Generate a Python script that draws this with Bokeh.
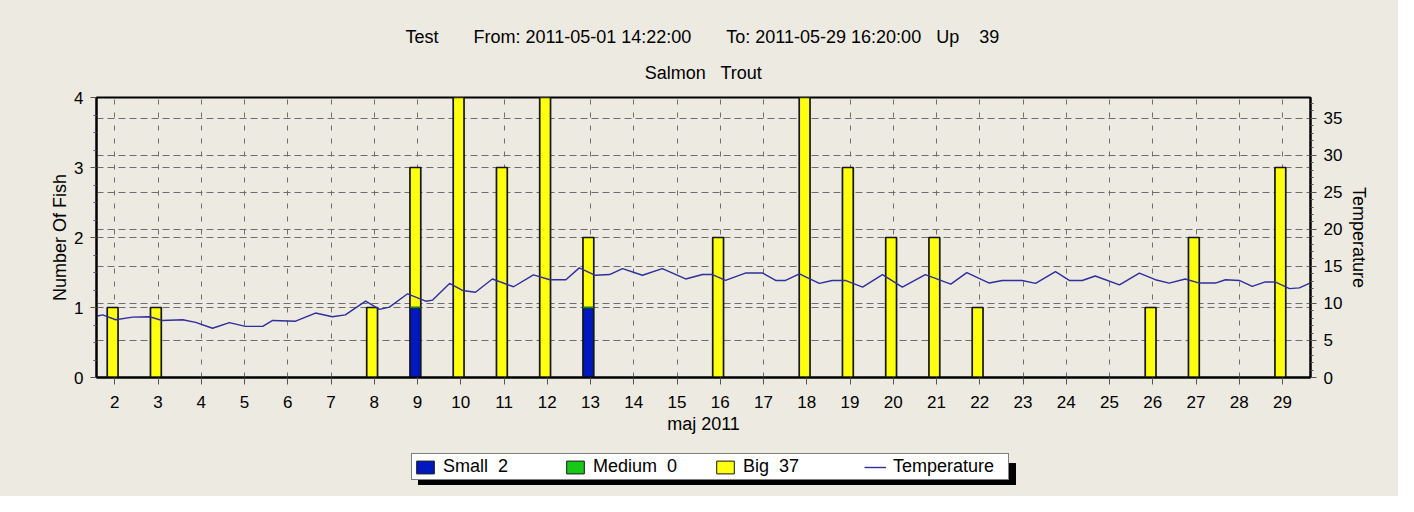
from bokeh.plotting import figure
from bokeh.layouts import column
from bokeh.models import (LinearAxis, Range1d, FixedTicker, Grid, Title, Legend,
                          LegendItem, ColumnDataSource)
from bokeh.transform import dodge
from bokeh.embed import file_html
from bokeh.resources import INLINE

# ---------------- data ----------------
days = [2, 3, 8, 9, 10, 11, 12, 13, 16, 18, 19, 20, 21, 22, 26, 27, 29]
small = [0, 0, 0, 1, 0, 0, 0, 1, 0, 0, 0, 0, 0, 0, 0, 0, 0]
medium = [0, 0, 0, 0, 0, 0, 0, 0, 0, 0, 0, 0, 0, 0, 0, 0, 0]
big = [1, 1, 1, 2, 4, 3, 4, 1, 2, 4, 3, 2, 2, 1, 1, 2, 3]

temp_day = [1.60, 1.72, 2.02, 2.41, 2.80, 3.10, 3.57, 3.87, 4.26, 4.65, 5.02, 5.42,
            5.65, 6.18, 6.64, 7.03, 7.33, 7.80, 8.12, 8.35, 8.77, 9.19, 9.35, 9.74,
            10.04, 10.34, 10.73, 11.22, 11.68, 12.06, 12.43, 12.74, 13.11, 13.44,
            13.74, 14.20, 14.66, 15.20, 15.59, 15.82, 16.12, 16.58, 16.98, 17.28,
            17.51, 17.83, 18.29, 18.59, 18.89, 19.29, 19.75, 20.21, 20.74, 21.33,
            21.70, 22.22, 22.52, 22.98, 23.29, 23.75, 24.07, 24.37, 24.67, 25.23,
            25.69, 26.06, 26.38, 26.75, 27.08, 27.45, 27.68, 28.00, 28.30, 28.60,
            28.83, 29.16, 29.39, 29.62]
temp_val = [8.3, 8.45, 7.8, 8.15, 8.2, 7.7, 7.8, 7.45, 6.65, 7.4, 6.9, 6.9,
            7.7, 7.6, 8.7, 8.2, 8.45, 10.3, 9.2, 9.5, 11.3, 10.3, 10.45, 12.7,
            11.75, 11.5, 13.3, 12.25, 13.85, 13.2, 13.2, 14.8, 13.8, 13.9,
            14.7, 13.8, 14.7, 13.3, 13.9, 13.9, 13.1, 14.1, 14.1, 13.1,
            13.1, 14.0, 12.7, 13.1, 13.1, 12.2, 13.9, 12.2, 13.9, 12.6,
            14.15, 12.75, 13.1, 13.1, 12.7, 14.3, 13.1, 13.1, 13.7, 12.5,
            14.1, 13.2, 12.75, 13.3, 12.75, 12.75, 13.2, 13.1, 12.3, 12.9,
            12.9, 12.0, 12.1, 12.7]

x_ticks = [2, 3, 4, 5, 6, 7, 8, 9, 10, 11, 12, 13, 14, 15, 16, 17, 18, 19, 20,
           21, 22, 23, 24, 25, 26, 27, 28, 29]
fish_ticks = [0, 1, 2, 3, 4]
fish_minor = [0.25, 0.5, 0.75, 1.25, 1.5, 1.75, 2.25, 2.5, 2.75, 3.25, 3.5, 3.75]
temp_ticks = [0, 5, 10, 15, 20, 25, 30, 35]
temp_minor = [t for t in range(0, 38) if t % 5 != 0]
temp_grid = [5, 10, 15, 20, 25, 30, 35]

title_text = ("Test" + "\u00a0" * 7 + "From: 2011-05-01 14:22:00" + "\u00a0" * 7 +
              "To: 2011-05-29 16:20:00" + "\u00a0" * 3 + "Up" + "\u00a0" * 4 + "39")
subtitle_text = "Salmon\u00a0\u00a0 Trout"
labels = ["Small  2", "Medium  0", "Big  37", "Temperature"]

# ---------------- style ----------------
BG = "#EDEAE1"
FONT = "Liberation Sans"
GRID = "#6e6e6e"
TICK = "#555555"
C_SMALL, C_MED, C_BIG, C_TEMP = "#0018C0", "#18C818", "#FFFF10", "#2E2E9E"
EDGE = "#151515"

med_bottom = [s for s in small]
med_top = [s + m for s, m in zip(small, medium)]
big_top = [s + m + b for s, m, b in zip(small, medium, big)]
src = ColumnDataSource(dict(day=days, small=small, med_bottom=med_bottom,
                            med_top=med_top, big_top=big_top))

p = figure(width=1398, height=447, x_range=Range1d(1.577, 29.647), y_range=Range1d(0, 4),
           output_backend="svg", toolbar_location=None, tools="",
           x_axis_type=None, y_axis_type=None,
           min_border_left=96, min_border_right=88, min_border_top=97, min_border_bottom=70)
p.extra_y_ranges = {"temp": Range1d(0, 37.8)}
p.background_fill_color = BG
p.border_fill_color = BG
p.outline_line_color = "black"
p.outline_line_width = 2

# titles (first added = closest to the frame)
p.add_layout(Title(text=subtitle_text, align="center", vertical_align="middle",
                   text_font=FONT, text_font_size="18px", text_font_style="normal",
                   text_color="black", standoff=27), "above")
p.add_layout(Title(text=title_text, align="left", offset=309, vertical_align="middle",
                   text_font=FONT, text_font_size="18px", text_font_style="normal",
                   text_color="black", standoff=1), "above")


def style_axis(ax, tick_out, minor_out, standoff, label_standoff, tick_size="17px"):
    ax.axis_line_color = "black"
    ax.axis_line_width = 2
    ax.major_tick_line_color = TICK
    ax.minor_tick_line_color = TICK
    ax.major_tick_out = tick_out
    ax.major_tick_in = 0
    ax.minor_tick_out = minor_out
    ax.minor_tick_in = 0
    ax.major_label_standoff = standoff
    ax.major_label_text_font = FONT
    ax.major_label_text_font_size = tick_size
    ax.major_label_text_color = "black"
    ax.axis_label_text_font = FONT
    ax.axis_label_text_font_size = "18px"
    ax.axis_label_text_font_style = "normal"
    ax.axis_label_text_color = "black"
    ax.axis_label_standoff = label_standoff


xaxis = LinearAxis(ticker=FixedTicker(ticks=x_ticks, minor_ticks=[]), axis_label="maj 2011")
style_axis(xaxis, 7, 0, 11, 3)
p.add_layout(xaxis, "below")

yaxis = LinearAxis(ticker=FixedTicker(ticks=fish_ticks, minor_ticks=fish_minor),
                   axis_label="Number Of Fish")
style_axis(yaxis, 6, 3, 7, 1)
p.add_layout(yaxis, "left")

taxis = LinearAxis(y_range_name="temp", ticker=FixedTicker(ticks=temp_ticks, minor_ticks=temp_minor),
                   axis_label="Temperature")
style_axis(taxis, 6, 3, 7, 4)
p.add_layout(taxis, "right")

p.add_layout(Grid(dimension=0, ticker=FixedTicker(ticks=x_ticks), grid_line_color=GRID,
                  grid_line_dash="5 8", grid_line_width=1))
p.add_layout(Grid(dimension=1, ticker=FixedTicker(ticks=fish_ticks), grid_line_color=GRID,
                  grid_line_dash="7 4", grid_line_width=1))
p.add_layout(Grid(dimension=1, ticker=FixedTicker(ticks=temp_grid), y_range_name="temp",
                  grid_line_color=GRID, grid_line_dash="7 4", grid_line_width=1))

xs = dodge("day", -0.05, range=p.x_range)
p.vbar(x=xs, width=0.25, bottom=0, top="small", source=src,
       fill_color=C_SMALL, line_color=EDGE, line_width=1.7)
p.vbar(x=xs, width=0.25, bottom="med_top", top="big_top", source=src,
       fill_color=C_BIG, line_color=EDGE, line_width=1.7)
p.vbar(x=xs, width=0.25, bottom="med_bottom", top="med_top", source=src,
       fill_color=C_MED, line_color="#0E8E0E", line_width=1.5)
p.line(temp_day, temp_val, y_range_name="temp", line_color=C_TEMP, line_width=1.4)

# ---------------- legend strip (own canvas so the box is not clipped) ----------------
lf = figure(width=1398, height=49, x_range=Range1d(0, 1), y_range=Range1d(0, 1),
            output_backend="svg", toolbar_location=None, tools="",
            x_axis_type=None, y_axis_type=None,
            min_border_left=0, min_border_right=0, min_border_top=0, min_border_bottom=0)
lf.background_fill_color = BG
lf.border_fill_color = BG
lf.outline_line_color = None
lf.xgrid.visible = False
lf.ygrid.visible = False

# legend-key proxies: one point each, placed outside the visible range of the strip
proxy = ColumnDataSource(dict(x=[-5.0, -4.0], top=[0.0, 0.0]))
k_small = lf.vbar(x="x", top="top", width=0.1, source=proxy, fill_color=C_SMALL, line_color=EDGE)
k_med = lf.vbar(x="x", top="top", width=0.1, source=proxy, fill_color=C_MED, line_color=EDGE)
k_big = lf.vbar(x="x", top="top", width=0.1, source=proxy, fill_color=C_BIG, line_color=EDGE)
k_temp = lf.line(x="x", y="top", source=proxy, line_color=C_TEMP, line_width=1.4)

leg_common = dict(orientation="horizontal", margin=0, padding=2, glyph_width=22, glyph_height=16,
                  label_standoff=7, label_text_font=FONT, label_text_font_size="18px",
                  label_text_color="black", border_line_color="black", border_line_width=1)
shadow = Legend(items=[LegendItem(label=" ", renderers=[k_temp])], location=(322, 11),
                background_fill_color="black", background_fill_alpha=1.0,
                label_width=563, spacing=0, **leg_common)
lf.add_layout(shadow)
legend = Legend(items=[LegendItem(label=labels[0], renderers=[k_small]),
                       LegendItem(label=labels[1], renderers=[k_med]),
                       LegendItem(label=labels[2], renderers=[k_big]),
                       LegendItem(label=labels[3], renderers=[k_temp])],
                location=(315, 16), background_fill_color="white", background_fill_alpha=1.0,
                label_width=113, spacing=8, **leg_common)
lf.add_layout(legend)

layout = column(p, lf, spacing=0, styles={"background-color": BG})
open("out.html", "w").write(file_html(layout, INLINE))
